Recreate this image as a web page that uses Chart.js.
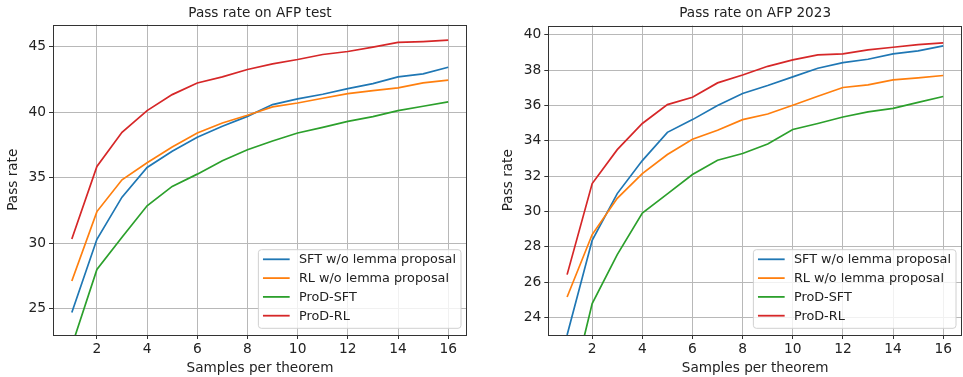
<!DOCTYPE html>
<html>
<head>
<meta charset="utf-8">
<script src="https://cdn.jsdelivr.net/npm/chart.js@4.4.1/dist/chart.umd.min.js"></script>
<style>
  html, body { margin: 0; padding: 0; background: #fff; }
  body { width: 963px; height: 377px; position: relative; overflow: hidden; }
  canvas { position: absolute; top: 0; }
</style>
</head>
<body>
<canvas id="c1" width="480" height="377" style="left:0px"></canvas>
<canvas id="c2" width="483" height="377" style="left:480px"></canvas>
<script>
// ---- data ----
const samples = [1, 2, 3, 4, 5, 6, 7, 8, 9, 10, 11, 12, 13, 14, 15, 16];
const seriesLabels = ['SFT w/o lemma proposal', 'RL w/o lemma proposal', 'ProD-SFT', 'ProD-RL'];
const seriesColors = ['#1f77b4', '#ff7f0e', '#2ca02c', '#d62728'];

// AFP test
const testSFTNoLemma = [24.72, 30.31, 33.52, 35.79, 37.02, 38.09, 38.93, 39.69, 40.59, 41.02, 41.38, 41.81, 42.19, 42.70, 42.93, 43.44];
const testRLNoLemma  = [27.12, 32.42, 34.85, 36.15, 37.35, 38.42, 39.18, 39.77, 40.41, 40.71, 41.07, 41.43, 41.66, 41.86, 42.24, 42.45];
const testProDSFT    = [22.17, 28.01, 30.46, 32.86, 34.34, 35.28, 36.30, 37.14, 37.81, 38.42, 38.85, 39.31, 39.67, 40.13, 40.46, 40.79];
const testProDRL     = [30.33, 35.87, 38.47, 40.13, 41.35, 42.24, 42.70, 43.27, 43.70, 44.03, 44.41, 44.64, 44.97, 45.33, 45.40, 45.51];

// AFP 2023
const y2023SFTNoLemma = [23.00, 28.36, 31.01, 32.88, 34.48, 35.20, 36.00, 36.68, 37.13, 37.62, 38.11, 38.43, 38.62, 38.92, 39.09, 39.38];
const y2023RLNoLemma  = [25.15, 28.69, 30.74, 32.14, 33.22, 34.09, 34.60, 35.20, 35.52, 36.01, 36.52, 37.02, 37.17, 37.45, 37.56, 37.70];
const y2023ProDSFT    = [18.90, 24.78, 27.55, 29.91, 30.99, 32.09, 32.90, 33.28, 33.82, 34.64, 34.98, 35.35, 35.64, 35.84, 36.18, 36.51];
const y2023ProDRL     = [26.42, 31.58, 33.50, 34.98, 36.05, 36.47, 37.28, 37.73, 38.22, 38.58, 38.87, 38.92, 39.15, 39.30, 39.45, 39.55];

// tick labels
const xTicks = [2, 4, 6, 8, 10, 12, 14, 16];
const testYTicks = [25, 30, 35, 40, 45];
const y2023YTicks = [24, 26, 28, 30, 32, 34, 36, 38, 40];

const titles = ['Pass rate on AFP test', 'Pass rate on AFP 2023'];
const xTitle = 'Samples per theorem';
const yTitle = 'Pass rate';

// ---- drawing ----
const FONT = 'DejaVu Sans';
const TXT = '#222';

const framePlugin = {
  id: 'frame',
  afterDatasetsDraw(chart) {
    const a = chart.chartArea, ctx = chart.ctx;
    ctx.save();
    ctx.strokeStyle = '#333';
    ctx.lineWidth = 1;
    ctx.strokeRect(Math.round(a.left) + 0.5, Math.round(a.top) + 0.5,
                   Math.round(a.right) - Math.round(a.left) - 1, Math.round(a.bottom) - Math.round(a.top));
    ctx.restore();
  }
};

const legendPlugin = {
  id: 'mplLegend',
  afterDraw(chart) {
    const a = chart.chartArea, ctx = chart.ctx;
    ctx.save();
    ctx.font = '12.8px "' + FONT + '"';
    const ds = chart.data.datasets;
    let maxW = 0;
    ds.forEach(d => { maxW = Math.max(maxW, ctx.measureText(d.label).width); });
    const boxW = 40.6 + maxW + 5;
    const boxH = 78.6;
    const right = a.right - 6;
    const bottom = a.bottom - 6.7;
    const left = right - boxW, top = bottom - boxH;
    ctx.beginPath();
    ctx.roundRect(left, top, boxW, boxH, 3);
    ctx.fillStyle = 'rgba(255,255,255,0.8)';
    ctx.fill();
    ctx.strokeStyle = '#d0d0d0';
    ctx.lineWidth = 1;
    ctx.stroke();
    ctx.textBaseline = 'middle';
    ctx.textAlign = 'left';
    ds.forEach((d, i) => {
      const y = top + 9.6 + i * 18.8;
      ctx.strokeStyle = d.borderColor;
      ctx.lineWidth = 1.8;
      ctx.beginPath();
      ctx.moveTo(left + 4.6, y);
      ctx.lineTo(left + 31.3, y);
      ctx.stroke();
      ctx.fillStyle = TXT;
      ctx.fillText(d.label, left + 40.6, y + 0.5);
    });
    ctx.restore();
  }
};

function makeChart(id, seriesData, title, yTicks, yMin, yMax, yAxisWidth, yTitlePad, titlePadBottom, rightPad) {
  const datasets = seriesData.map((vals, i) => ({
    label: seriesLabels[i],
    data: samples.map((s, j) => ({ x: s, y: vals[j] })),
    borderColor: seriesColors[i],
    backgroundColor: seriesColors[i],
    borderWidth: 1.7,
    pointRadius: 0,
    tension: 0,
    fill: false,
    order: 4 - i
  }));
  return new Chart(document.getElementById(id), {
    type: 'line',
    data: { datasets },
    plugins: [framePlugin, legendPlugin],
    options: {
      responsive: false,
      animation: false,
      devicePixelRatio: 1,
      layout: { padding: { left: 0, right: rightPad, top: 0, bottom: 0 } },
      plugins: {
        legend: { display: false },
        tooltip: { enabled: false },
        title: {
          display: true,
          text: title,
          fullSize: false,
          color: TXT,
          font: { family: FONT, size: 13.6, weight: 'normal' },
          padding: { top: 5.6, bottom: titlePadBottom }
        }
      },
      scales: {
        x: {
          type: 'linear',
          min: 0.25,
          max: 16.75,
          afterBuildTicks: s => { s.ticks = xTicks.map(v => ({ value: v })); },
          afterFit: s => { s.height = 42; },
          ticks: { color: TXT, font: { family: FONT, size: 13.8 }, padding: 2, maxRotation: 0, autoSkip: false },
          grid: { color: '#b8b8b8', lineWidth: 1, drawTicks: true, tickLength: 4, tickColor: '#333', tickWidth: 1 },
          border: { display: false },
          title: { display: true, text: xTitle, color: TXT, font: { family: FONT, size: 13.6 }, padding: { top: 0, bottom: 0 } }
        },
        y: {
          type: 'linear',
          min: yMin,
          max: yMax,
          afterBuildTicks: s => { s.ticks = yTicks.map(v => ({ value: v })); },
          afterFit: s => { s.width = yAxisWidth; },
          ticks: { color: TXT, font: { family: FONT, size: 13.8 }, padding: 3, autoSkip: false },
          grid: { color: '#b8b8b8', lineWidth: 1, drawTicks: true, tickLength: 4, tickColor: '#333', tickWidth: 1 },
          border: { display: false },
          title: { display: true, text: yTitle, color: TXT, font: { family: FONT, size: 13.6 }, padding: { top: yTitlePad, bottom: 0 } }
        }
      }
    }
  });
}

makeChart('c1', [testSFTNoLemma, testRLNoLemma, testProDSFT, testProDRL], titles[0],
          testYTicks, 23, 46.7, 53, 5, 2.6, 13);
makeChart('c2', [y2023SFTNoLemma, y2023RLNoLemma, y2023ProDSFT, y2023ProDRL], titles[1],
          y2023YTicks, 23, 40.53, 68.3, 20, 3.6, 1);
</script>
</body>
</html>
